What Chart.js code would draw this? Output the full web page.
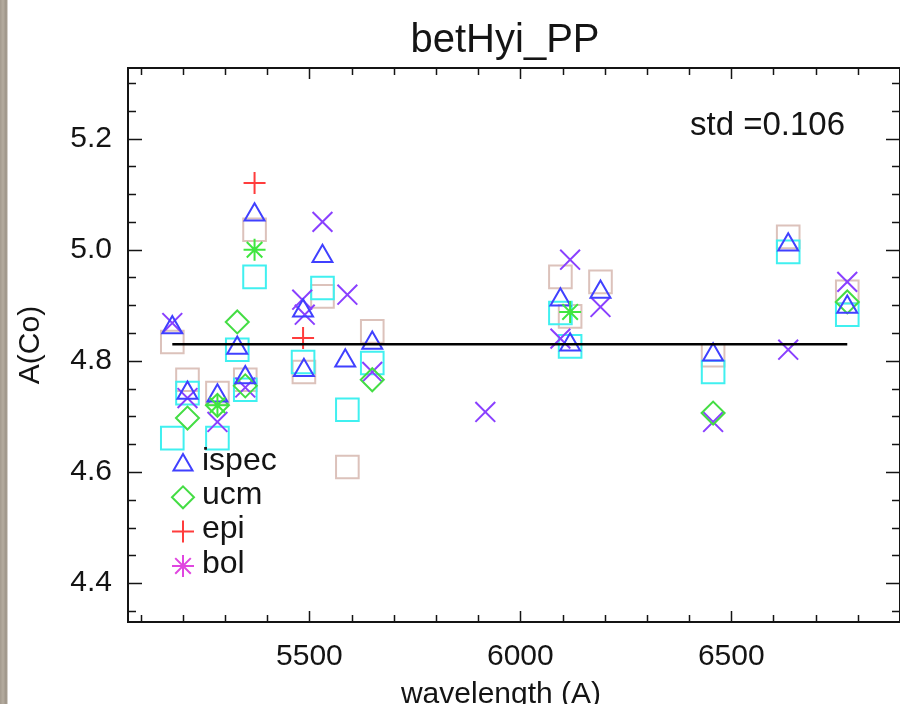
<!DOCTYPE html>
<html>
<head>
<meta charset="utf-8">
<title>betHyi_PP</title>
<script src="https://cdn.jsdelivr.net/npm/chart.js@4.4.1/dist/chart.umd.min.js"></script>
<style>
  html, body { margin: 0; padding: 0; background: #fff; }
  #wrap {
    position: relative; width: 900px; height: 704px;
    background: linear-gradient(to right, #a39a8e 0, #b5ac9f 3px, #9d9488 6px, #aaa195 7px, #fff 8px);
  }
  canvas { display: block; }
</style>
</head>
<body>
<div id="wrap"><canvas id="chart" width="900" height="704"></canvas></div>
<script>
// ---- values (wavelength in A, A(Co))
const ispecWave  = [5175, 5211, 5282, 5329, 5348, 5370, 5485, 5487, 5531, 5585, 5649, 6095, 6118, 6190, 6457, 6635, 6775];
const ispecAbund = [4.86, 4.742, 4.737, 4.823, 4.77, 5.063, 4.89, 4.783, 4.988, 4.80, 4.832, 4.91, 4.829, 4.924, 4.811, 5.009, 4.897];

const ucmWave  = [5211, 5282, 5329, 5348, 5649, 6457, 6775];
const ucmAbund = [4.697, 4.72, 4.87, 4.755, 4.766, 4.706, 4.906];

const epiWave  = [5370, 5485];
const epiAbund = [5.12, 4.841];

const bolWave  = [5282, 5370, 6118];
const bolAbund = [4.72, 5.0, 4.888];

// unlabelled sets (purple crosses, cyan and light brown squares)
const crossWave  = [5175, 5211, 5282, 5348, 5483, 5489, 5531, 5590, 5649, 5917, 6095, 6118, 6190, 6457, 6635, 6775];
const crossAbund = [4.868, 4.733, 4.69, 4.752, 4.91, 4.883, 5.05, 4.919, 4.78, 4.708, 4.84, 4.982, 4.897, 4.69, 4.82, 4.942];

const cyanWave  = [5175, 5211, 5282, 5329, 5348, 5370, 5485, 5531, 5590, 5649, 6095, 6118, 6457, 6635, 6775];
const cyanAbund = [4.661, 4.742, 4.661, 4.82, 4.748, 4.951, 4.798, 4.931, 4.712, 4.796, 4.886, 4.826, 4.78, 4.996, 4.883];

const brownWave  = [5175, 5211, 5282, 5348, 5370, 5487, 5531, 5590, 5649, 6095, 6118, 6190, 6457, 6635, 6775];
const brownAbund = [4.834, 4.766, 4.742, 4.766, 5.036, 4.78, 4.916, 4.609, 4.853, 4.951, 4.88, 4.942, 4.81, 5.023, 4.924];

// mean line
const meanWave  = [5175, 6775];
const meanAbund = [4.83, 4.83];

// axes
const xRange = [5070, 6900];
const yRange = [4.33, 5.327];
const xTickLabels = [5500, 6000, 6500];
const yTickLabels = [4.4, 4.6, 4.8, 5.0, 5.2];
const xMinorStep = 100;
const yMinorStep = 0.05;

const titleText = 'betHyi_PP';
const xTitleText = 'wavelength (A)';
const stdText = 'std =0.106';

const FONT = "'Liberation Sans', Arial, Helvetica, sans-serif";
const INK = '#141414';

function toPoints(xs, ys) {
    return xs.map((x, i) => ({ x: x, y: ys[i] }));
}

function markerSet(label, xs, ys, style, radius, color) {
    return {
        label: label,
        data: toPoints(xs, ys),
        pointStyle: style,
        pointRadius: radius,
        pointHoverRadius: radius,
        pointBorderWidth: 2,
        pointBorderColor: color,
        pointBackgroundColor: 'rgba(0,0,0,0)',
        borderColor: color,
        showLine: false
    };
}

// legend entries as drawn in the box (bol shows magenta there)
const legendItems = [
    { text: 'ispec', style: 'triangle', radius: 11, color: '#4040ff' },
    { text: 'ucm',   style: 'rectRot',  radius: 11, color: '#44dd44' },
    { text: 'epi',   style: 'cross',    radius: 11, color: '#ff3c3c' },
    { text: 'bol',   style: 'star',     radius: 11, color: '#e046e0' }
];

function stepTicks(min, max, step) {
    const out = [];
    const start = Math.ceil(min / step - 1e-6) * step;
    for (let v = start; v <= max + 1e-9; v += step) {
        out.push({ value: Math.round(v * 1000) / 1000 });
    }
    return out;
}

function isMajor(value, list) {
    return list.some(t => Math.abs(t - value) < 1e-6);
}

// box round the plot with inward ticks on all four sides
const frame = {
    id: 'frame',
    afterDatasetsDraw(chart) {
        const ctx = chart.ctx;
        const a = chart.chartArea;
        const xs = chart.scales.x, ys = chart.scales.y;
        ctx.save();
        ctx.strokeStyle = INK;
        ctx.lineWidth = 2;
        ctx.strokeRect(a.left, a.top, a.right - a.left, a.bottom - a.top);
        ctx.lineWidth = 1.5;
        ctx.beginPath();
        xs.ticks.forEach(t => {
            const px = Math.round(xs.getPixelForValue(t.value)) + 0.5;
            const len = isMajor(t.value, xTickLabels) ? 11 : 7;
            ctx.moveTo(px, a.bottom); ctx.lineTo(px, a.bottom - len);
            ctx.moveTo(px, a.top); ctx.lineTo(px, a.top + len);
        });
        ys.ticks.forEach(t => {
            const py = Math.round(ys.getPixelForValue(t.value)) + 0.5;
            const len = isMajor(t.value, yTickLabels) ? 14 : 8;
            ctx.moveTo(a.left, py); ctx.lineTo(a.left + len, py);
            ctx.moveTo(a.right, py); ctx.lineTo(a.right - len, py);
        });
        ctx.stroke();
        ctx.restore();
    }
};

// title, x title, legend box in the lower left and the std note
const notes = {
    id: 'notes',
    afterDraw(chart) {
        const ctx = chart.ctx;
        const a = chart.chartArea;
        ctx.save();
        ctx.fillStyle = INK;
        ctx.textAlign = 'center';
        ctx.textBaseline = 'alphabetic';
        ctx.font = '40px ' + FONT;
        ctx.fillText(titleText, a.left + 377, 52);
        ctx.font = '30px ' + FONT;
        ctx.fillText(xTitleText, a.left + 373, 703);

        ctx.textAlign = 'left';
        ctx.textBaseline = 'middle';
        ctx.font = '32px ' + FONT;
        legendItems.forEach((item, i) => {
            const cx = a.left + 55;
            const cy = a.top + 395 + i * 34.3;
            ctx.strokeStyle = item.color;
            ctx.fillStyle = 'rgba(0,0,0,0)';
            ctx.lineWidth = 2;
            Chart.helpers.drawPointLegend(ctx, {
                pointStyle: item.style, radius: item.radius, rotation: 0, borderWidth: 2
            }, cx, cy + (item.style === 'triangle' ? 2 : 0));
            ctx.fillStyle = INK;
            ctx.fillText(item.text, cx + 19, cy - 2);
        });
        ctx.font = '33px ' + FONT;
        ctx.textBaseline = 'alphabetic';
        ctx.fillText(stdText, a.left + 562, a.top + 67);
        ctx.restore();
    }
};

const datasets = [
    {
        type: 'line',
        label: 'mean',
        data: toPoints(meanWave, meanAbund),
        borderColor: '#000',
        borderWidth: 2.5,
        pointRadius: 0,
        fill: false
    },
    markerSet('epi', epiWave, epiAbund, 'cross', 11, '#ff3c3c'),
    markerSet('bol', bolWave, bolAbund, 'star', 11, '#3fe63f'),
    markerSet('ispec', ispecWave, ispecAbund, 'triangle', 11.5, '#4040ff'),
    markerSet('ucm', ucmWave, ucmAbund, 'rectRot', 11.5, '#44dd44'),
    markerSet('cross', crossWave, crossAbund, 'crossRot', 14, '#8a40ff'),
    markerSet('cyan', cyanWave, cyanAbund, 'rect', 16, '#40f0f0'),
    markerSet('brown', brownWave, brownAbund, 'rect', 16, '#dcc2bb')
];

new Chart(document.getElementById('chart'), {
    type: 'scatter',
    data: { datasets: datasets },
    plugins: [frame, notes],
    options: {
        responsive: false,
        animation: false,
        events: [],
        layout: { autoPadding: false, padding: { top: 68, left: 0, right: 0, bottom: 0 } },
        plugins: {
            legend: { display: false },
            tooltip: { enabled: false },
            title: { display: false }
        },
        scales: {
            x: {
                type: 'linear',
                position: 'bottom',
                min: xRange[0],
                max: xRange[1],
                afterBuildTicks: s => { s.ticks = stepTicks(xRange[0], xRange[1], xMinorStep); },
                afterFit: s => {
                    s.height = 82;
                    s.paddingLeft = 0;
                    s.paddingRight = 0;
                },
                grid: { display: false, drawTicks: false },
                border: { display: false },
                ticks: {
                    autoSkip: false,
                    maxRotation: 0,
                    padding: 17,
                    color: INK,
                    font: { family: FONT, size: 30 },
                    callback: v => isMajor(v, xTickLabels) ? String(v) : ''
                }
            },
            y: {
                type: 'linear',
                position: 'left',
                min: yRange[0],
                max: yRange[1],
                afterBuildTicks: s => { s.ticks = stepTicks(yRange[0], yRange[1], yMinorStep); },
                afterFit: s => {
                    s.width = 128;
                    s.paddingTop = 0;
                    s.paddingBottom = 0;
                },
                grid: { display: false, drawTicks: false },
                border: { display: false },
                ticks: {
                    autoSkip: false,
                    padding: 16,
                    color: INK,
                    font: { family: FONT, size: 30 },
                    callback: v => isMajor(v, yTickLabels) ? v.toFixed(1) : ''
                },
                title: {
                    display: true,
                    text: 'A(Co)',
                    color: INK,
                    font: { family: FONT, size: 30, lineHeight: 1.2 },
                    padding: { top: 13, bottom: 0 }
                }
            }
        }
    }
});
</script>
</body>
</html>
